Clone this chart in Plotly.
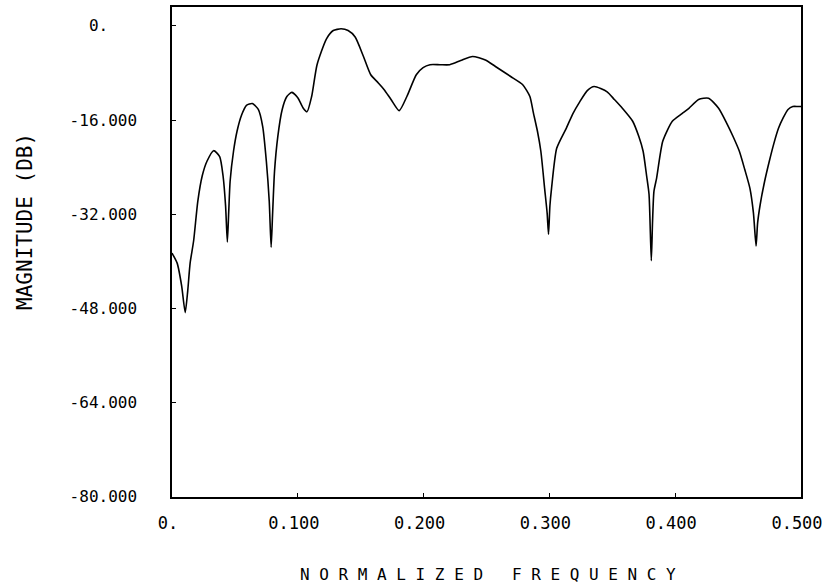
import plotly.graph_objects as go

freq = [0.0, 0.0041, 0.0077, 0.0105, 0.0125, 0.0144, 0.0172, 0.0205, 0.024, 0.0278,
        0.0331, 0.0379, 0.0406, 0.0426, 0.044, 0.0451, 0.0462, 0.0489, 0.0517, 0.0554,
        0.0592, 0.0639, 0.0686, 0.0721, 0.075, 0.0773, 0.0788, 0.0799, 0.0815, 0.0841,
        0.0876, 0.0913, 0.0952, 0.1, 0.1041, 0.1073, 0.111, 0.1153, 0.1228, 0.1282,
        0.1344, 0.14, 0.1456, 0.1522, 0.158, 0.1636, 0.1685, 0.1741, 0.1806, 0.1867,
        0.1942, 0.1996, 0.2051, 0.213, 0.2208, 0.2295, 0.2389, 0.2491, 0.2571, 0.2692,
        0.2788, 0.2845, 0.2871, 0.2905, 0.2932, 0.2962, 0.2982, 0.2993, 0.3004, 0.3017,
        0.3058, 0.3134, 0.3187, 0.3241, 0.3301, 0.3356, 0.3459, 0.3516, 0.358, 0.3662,
        0.3711, 0.3745, 0.3773, 0.3792, 0.381, 0.382, 0.3831, 0.3852, 0.3901, 0.3977,
        0.4054, 0.4109, 0.4186, 0.4265, 0.4345, 0.4411, 0.446, 0.451, 0.4553, 0.4594,
        0.4622, 0.4643, 0.4655, 0.4676, 0.4711, 0.4748, 0.4784, 0.4821, 0.4859, 0.4897,
        0.4935, 0.4975, 0.5]
magnitude_db = [-38.6, -40.3, -44.2, -48.7, -45.0, -40.3, -36.5, -29.8, -25.5, -23.0,
                -21.2, -22.2, -25.5, -30.6, -36.7, -31.5, -26.4, -21.3, -17.9, -15.1,
                -13.5, -13.2, -14.2, -17.1, -23.0, -29.8, -37.6, -32.3, -24.7, -18.8,
                -14.2, -12.0, -11.3, -12.2, -13.9, -14.6, -12.0, -6.6, -2.2, -0.8,
                -0.5, -0.8, -1.9, -5.2, -8.3, -9.6, -10.8, -12.5, -14.4, -12.0,
                -8.3, -7.1, -6.6, -6.6, -6.6, -5.9, -5.2, -5.8, -6.9, -8.6,
                -10.0, -12.0, -14.6, -17.9, -21.3, -27.6, -31.8, -35.4, -30.6, -27.6,
                -20.8, -17.4, -14.9, -12.9, -11.0, -10.3, -11.2, -12.5, -14.0, -16.2,
                -18.8, -21.3, -25.5, -28.6, -39.9, -33.2, -28.1, -25.9, -19.6, -16.2,
                -14.9, -14.0, -12.5, -12.3, -14.0, -16.6, -18.8, -21.3, -24.4, -27.6,
                -31.8, -37.4, -33.5, -30.3, -26.4, -23.0, -20.0, -17.4, -15.6, -14.2,
                -13.7, -13.7, -13.7]

x_tickvals = [0.0, 0.1, 0.2, 0.3, 0.4, 0.5]
x_ticktext = ["0.", "0.100", "0.200", "0.300", "0.400", "0.500"]
y_tickvals = [0, -16, -32, -48, -64, -80]
y_ticktext = ["0.\u00a0\u00a0\u00a0", "-16.000", "-32.000", "-48.000", "-64.000", "-80.000"]

MONO = "DejaVu Sans Mono"

fig = go.Figure()
fig.add_trace(go.Scatter(x=freq, y=magnitude_db, mode="lines",
                         line=dict(color="black", width=1.6, shape="spline", smoothing=0.6),
                         hoverinfo="skip"))

fig.update_layout(
    width=828, height=586,
    margin=dict(l=172, r=22, t=5, b=89),
    paper_bgcolor="white", plot_bgcolor="white",
    showlegend=False,
    font=dict(family=MONO, color="black", size=16),
    xaxis=dict(range=[0, 0.5], tickvals=x_tickvals, ticktext=x_ticktext,
               ticks="inside", ticklen=4, tickcolor="black",
               showgrid=False, zeroline=False, showline=True, linecolor="black",
               linewidth=1.5, mirror=True, ticklabelstandoff=10,
               ticklabelshift=-4, ticklabeloverflow="allow",
               tickfont=dict(family=MONO, size=17, color="black")),
    yaxis=dict(range=[-80.02, 3.2], tickvals=y_tickvals, ticktext=y_ticktext,
               ticks="inside", ticklen=4, tickcolor="black",
               showgrid=False, zeroline=False, showline=True, linecolor="black",
               linewidth=1.5, mirror=True, ticklabelstandoff=30,
               tickfont=dict(family=MONO, size=16, color="black")),
    annotations=[
        dict(text="N O R M A L I Z E D   F R E Q U E N C Y", xref="paper", yref="paper",
             x=0.503, y=-0.158, xanchor="center", yanchor="middle", showarrow=False,
             font=dict(family=MONO, size=16, color="black")),
        dict(text="MAGNITUDE (DB)", xref="paper", yref="paper",
             x=-0.234, y=0.563, xanchor="center", yanchor="middle", showarrow=False,
             textangle=-90, font=dict(family=MONO, size=21, color="black")),
    ],
)

fig.write_html("out.html")
